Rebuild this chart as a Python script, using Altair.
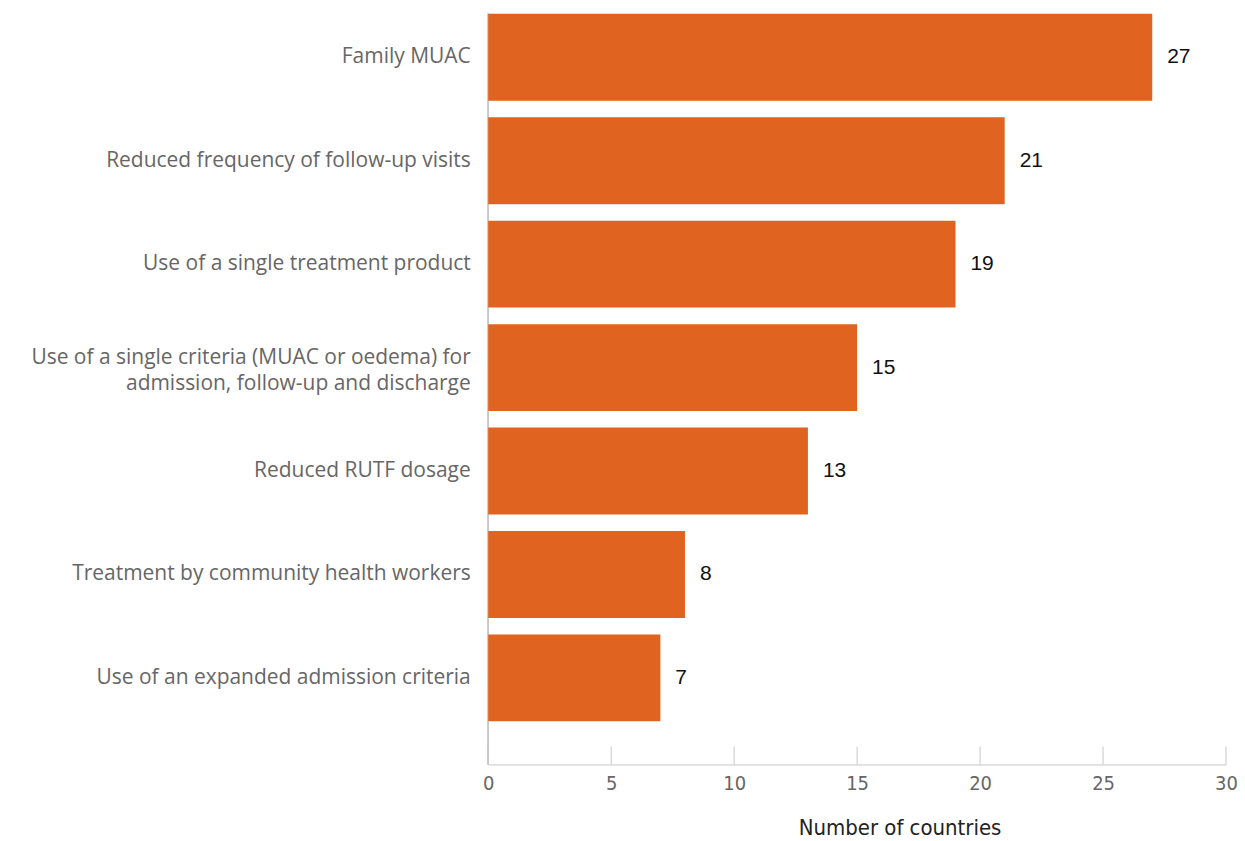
import altair as alt
import pandas as pd

categories = [
    "Family MUAC",
    "Reduced frequency of follow-up visits",
    "Use of a single treatment product",
    "Use of a single criteria (MUAC or oedema) for|admission, follow-up and discharge",
    "Reduced RUTF dosage",
    "Treatment by community health workers",
    "Use of an expanded admission criteria",
]
values = [27, 21, 19, 15, 13, 8, 7]
tick_values = [0, 5, 10, 15, 20, 25, 30]

df = pd.DataFrame({"cat": categories, "val": values})
ticks_df = pd.DataFrame({"t": tick_values})

W = 739
H = 717
AXIS_Y = 756
COND_FONT = "'DejaVu Sans Condensed', 'Liberation Sans Narrow', 'Roboto Condensed', Roboto, sans-serif"

xscale = alt.Scale(domain=[0, 30], nice=False)
yscale = alt.Scale(paddingInner=0.16, paddingOuter=0.04)

base = alt.Chart(df)

bars = base.mark_bar(color="#E0631F").encode(
    x=alt.X("val:Q", scale=xscale,
            axis=alt.Axis(values=tick_values, title="Number of countries",
                          grid=False, ticks=False, domainColor="#c8c8c8",
                          offset=AXIS_Y - H, labelFont=COND_FONT, labelFlush=False,
                          labelFontSize=20, labelColor="#666666", labelPadding=9,
                          titleFont=COND_FONT, titleFontSize=22,
                          titleFontWeight="normal", titleColor="#222222",
                          titlePadding=24, titleX=412, titleAlign="center")),
    y=alt.Y("cat:N", sort=categories, scale=yscale,
            axis=alt.Axis(title=None, domain=False, ticks=False, labelLimit=0,
                          labelFont="Open Sans", labelFontSize=21, labelColor="#666666",
                          labelPadding=18, labelLineHeight=26,
                          labelOffset={"condition": {"test": "indexof(datum.value, '|') >= 0", "value": -10}, "value": 0},
                          labelExpr="split(datum.value, '|')")),
)

labels = base.mark_text(align="left", baseline="middle", dx=15, font="Liberation Sans",
                        fontSize=21, color="#111111").encode(
    x=alt.X("val:Q", scale=xscale),
    y=alt.Y("cat:N", sort=categories, scale=yscale),
    text="val:Q",
)

left_line = alt.Chart(ticks_df).mark_rule(color="#c8c8c8", strokeWidth=1).encode(
    x=alt.value(0), y=alt.value(4), y2=alt.value(AXIS_Y)
)

tick_marks = alt.Chart(ticks_df).mark_rule(color="#c8c8c8", strokeWidth=1).encode(
    x=alt.X("t:Q", scale=xscale),
    y=alt.value(AXIS_Y - 18), y2=alt.value(AXIS_Y),
)

chart = alt.layer(left_line, tick_marks, bars, labels).properties(
    width=W, height=H,
    autosize=alt.AutoSizeParams(type="none"),
    padding={"left": 481, "top": 1, "right": 11, "bottom": 118},
).configure_view(stroke=None)

chart.save("out.html", embed_options={"renderer": "svg", "actions": False})
